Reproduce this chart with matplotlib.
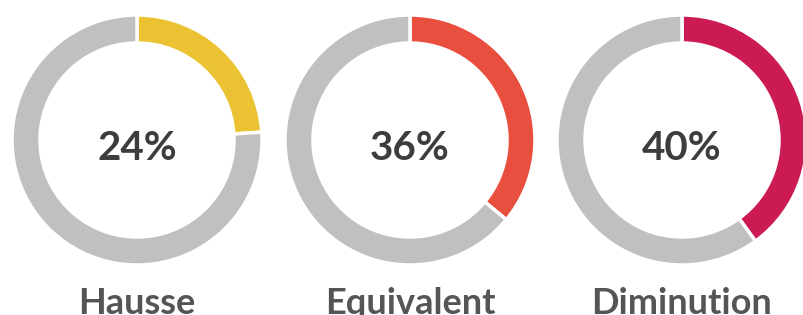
import matplotlib.pyplot as plt

plt.rcParams['font.family'] = ['Lato', 'DejaVu Sans']

# data
categories = ['Hausse', 'Equivalent', 'Diminution']
percents = [24, 36, 40]
colors = ['#EBC232', '#E94F3F', '#CC1A52']
rest_color = '#C0C0C0'

W, H = 804, 315
fig = plt.figure(figsize=(W / 100, H / 100), dpi=100)
ax = fig.add_axes([0, 0, 1, 1])

centers_x = [137, 410, 682]
cy = H - 140
r_out, ring = 125, 28

for cx, cat, pct, col in zip(centers_x, categories, percents, colors):
    ax.pie([pct, 100 - pct], colors=[col, rest_color], startangle=90,
           counterclock=False, center=(cx, cy), radius=r_out,
           wedgeprops=dict(width=ring, edgecolor='white', linewidth=2.5),
           frame=True)
    ax.text(cx, cy - 9, f'{pct}%', ha='center', va='center', fontsize=29,
            fontweight='bold', color='#3D3D3D')
    ax.text(cx, H - 303, cat, ha='center', va='center', fontsize=26,
            fontweight='bold', color='#555555')

ax.set_xlim(0, W)
ax.set_ylim(0, H)
ax.set_aspect('equal')
ax.axis('off')
fig.savefig('out.png', dpi=100)
